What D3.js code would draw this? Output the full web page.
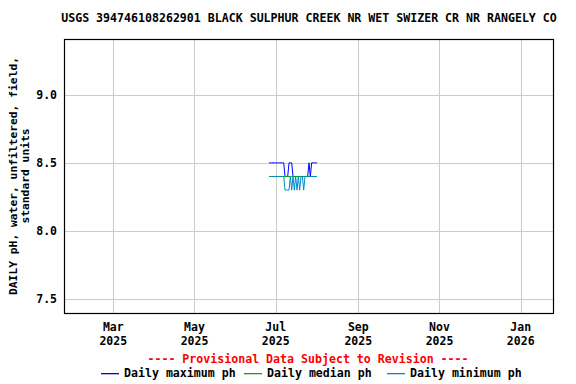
<!DOCTYPE html>
<html>
<head>
<meta charset="utf-8">
<script src="https://cdn.jsdelivr.net/npm/d3@7"></script>
<style>
  body { margin: 0; background: #fff; }
  text { font-family: "DejaVu Sans Mono", "Liberation Mono", monospace; font-weight: bold; }
</style>
</head>
<body>
<div id="chart"></div>
<script>
// USGS daily pH chart
const title = "USGS 394746108262901 BLACK SULPHUR CREEK NR WET SWIZER CR NR RANGELY CO";
const yTitle = ["DAILY pH, water, unfiltered, field,", "standard units"];

const days = [
  "2025-06-26","2025-06-27","2025-06-28","2025-06-29","2025-06-30",
  "2025-07-01","2025-07-02","2025-07-03","2025-07-04","2025-07-05","2025-07-06","2025-07-07",
  "2025-07-08","2025-07-09","2025-07-10","2025-07-11","2025-07-12","2025-07-13","2025-07-14",
  "2025-07-15","2025-07-16","2025-07-17","2025-07-18","2025-07-19","2025-07-20","2025-07-21",
  "2025-07-22","2025-07-23","2025-07-24","2025-07-25","2025-07-26","2025-07-27","2025-07-28",
  "2025-07-29","2025-07-30","2025-07-31","2025-08-01"
];
const maxPh = [
  8.5,8.5,8.5,8.5,8.5,
  8.5,8.5,8.5,8.5,8.5,8.5,8.5,
  8.4,8.4,8.4,8.5,8.5,8.5,8.4,
  8.4,8.4,8.4,8.4,8.4,8.4,8.4,
  8.4,8.4,8.4,8.4,8.5,8.4,8.5,
  8.5,8.5,8.5,8.5
];
const medianPh = [
  8.4,8.4,8.4,8.4,8.4,
  8.4,8.4,8.4,8.4,8.4,8.4,8.4,
  8.4,8.4,8.4,8.4,8.4,8.4,8.4,
  8.4,8.4,8.4,8.4,8.4,8.4,8.4,
  8.4,8.4,8.4,8.4,8.4,8.4,8.4,
  8.4,8.4,8.4,8.4
];
const minPh = [
  8.4,8.4,8.4,8.4,8.4,
  8.4,8.4,8.4,8.4,8.4,8.4,8.4,
  8.3,8.3,8.3,8.3,8.4,8.3,8.4,
  8.3,8.4,8.3,8.4,8.3,8.4,8.4,
  8.3,8.4,8.4,8.4,8.4,8.4,8.4,
  8.4,8.4,8.4,8.4
];

const xTicks = ["2025-03-01","2025-05-01","2025-07-01","2025-09-01","2025-11-01","2026-01-01"];
const yTicks = [7.5, 8.0, 8.5, 9.0];

const series = [
  { name: "Daily maximum ph", values: maxPh, color: "#0000ff" },
  { name: "Daily median ph", values: medianPh, color: "#00b000" },
  { name: "Daily minimum ph", values: minPh, color: "#0088cc" }
];

(function () {
  const width = 576, height = 384;
  const margin = { top: 39, right: 22, bottom: 71, left: 64 };
  const parse = d3.utcParse("%Y-%m-%d");

  const svg = d3.select("#chart").append("svg")
    .attr("width", width)
    .attr("height", height);

  const x = d3.scaleUtc()
    .domain([parse("2025-01-23"), parse("2026-01-26")])
    .range([margin.left, width - margin.right]);

  const y = d3.scaleLinear()
    .domain([7.397, 9.41])
    .range([height - margin.bottom, margin.top]);

  // grid
  svg.append("g").selectAll("line.v")
    .data(xTicks.map(parse))
    .join("line")
    .attr("x1", d => Math.round(x(d)) + 0.5).attr("x2", d => Math.round(x(d)) + 0.5)
    .attr("y1", margin.top).attr("y2", height - margin.bottom)
    .attr("stroke", "#cccccc");

  svg.append("g").selectAll("line.h")
    .data(yTicks)
    .join("line")
    .attr("y1", d => Math.round(y(d)) + 0.5).attr("y2", d => Math.round(y(d)) + 0.5)
    .attr("x1", margin.left).attr("x2", width - margin.right)
    .attr("stroke", "#cccccc");

  // series lines
  const line = d3.line()
    .x((d, i) => x(parse(days[i])))
    .y(d => y(d));

  series.forEach(s => {
    svg.append("path")
      .datum(s.values)
      .attr("d", line)
      .attr("fill", "none")
      .attr("stroke", s.color)
      .attr("stroke-width", 1);
  });

  // frame
  svg.append("rect")
    .attr("x", margin.left + 0.5).attr("y", margin.top + 0.5)
    .attr("width", width - margin.left - margin.right - 1)
    .attr("height", height - margin.top - margin.bottom)
    .attr("fill", "none")
    .attr("stroke", "#000")
    .attr("stroke-width", 1.2);

  // y tick labels
  svg.append("g").selectAll("text")
    .data(yTicks)
    .join("text")
    .attr("x", margin.left - 7)
    .attr("y", d => y(d))
    .attr("dy", "0.35em")
    .attr("text-anchor", "end")
    .style("font-size", "11.5px")
    .text(d => d3.format(".1f")(d));

  // x tick labels
  const fmtMonth = d3.utcFormat("%b"), fmtYear = d3.utcFormat("%Y");
  const xl = svg.append("g").selectAll("text")
    .data(xTicks.map(parse))
    .join("text")
    .attr("x", d => x(d))
    .attr("text-anchor", "middle")
    .style("font-size", "11.5px");
  xl.append("tspan").attr("x", d => x(d)).attr("y", 331).text(d => fmtMonth(d));
  xl.append("tspan").attr("x", d => x(d)).attr("y", 345).text(d => fmtYear(d));

  // title
  svg.append("text")
    .attr("x", (margin.left + width - margin.right) / 2)
    .attr("y", 22)
    .attr("text-anchor", "middle")
    .style("font-size", "11.6px")
    .text(title);

  // y axis title
  const cy = (margin.top + height - margin.bottom) / 2;
  yTitle.forEach((t, i) => {
    svg.append("text")
      .attr("transform", `translate(${17 + i * 12},${cy}) rotate(-90)`)
      .attr("text-anchor", "middle")
      .style("font-size", "11.3px")
      .text(t);
  });

  // provisional note
  svg.append("text")
    .attr("x", 308)
    .attr("y", 363)
    .attr("text-anchor", "middle")
    .style("font-size", "11.6px")
    .style("fill", "#ff0000")
    .text("---- Provisional Data Subject to Revision ----");

  // legend
  const legendX = [101, 244, 387];
  series.forEach((s, i) => {
    const g = svg.append("g").attr("transform", `translate(${legendX[i]},373)`);
    g.append("rect")
      .attr("x", 0).attr("y", 0)
      .attr("width", 18).attr("height", 1.3)
      .attr("fill", s.color);
    g.append("text")
      .attr("x", 23)
      .attr("y", 0)
      .attr("dy", "0.35em")
      .style("font-size", "11.6px")
      .text(s.name);
  });
})();
</script>
</body>
</html>
